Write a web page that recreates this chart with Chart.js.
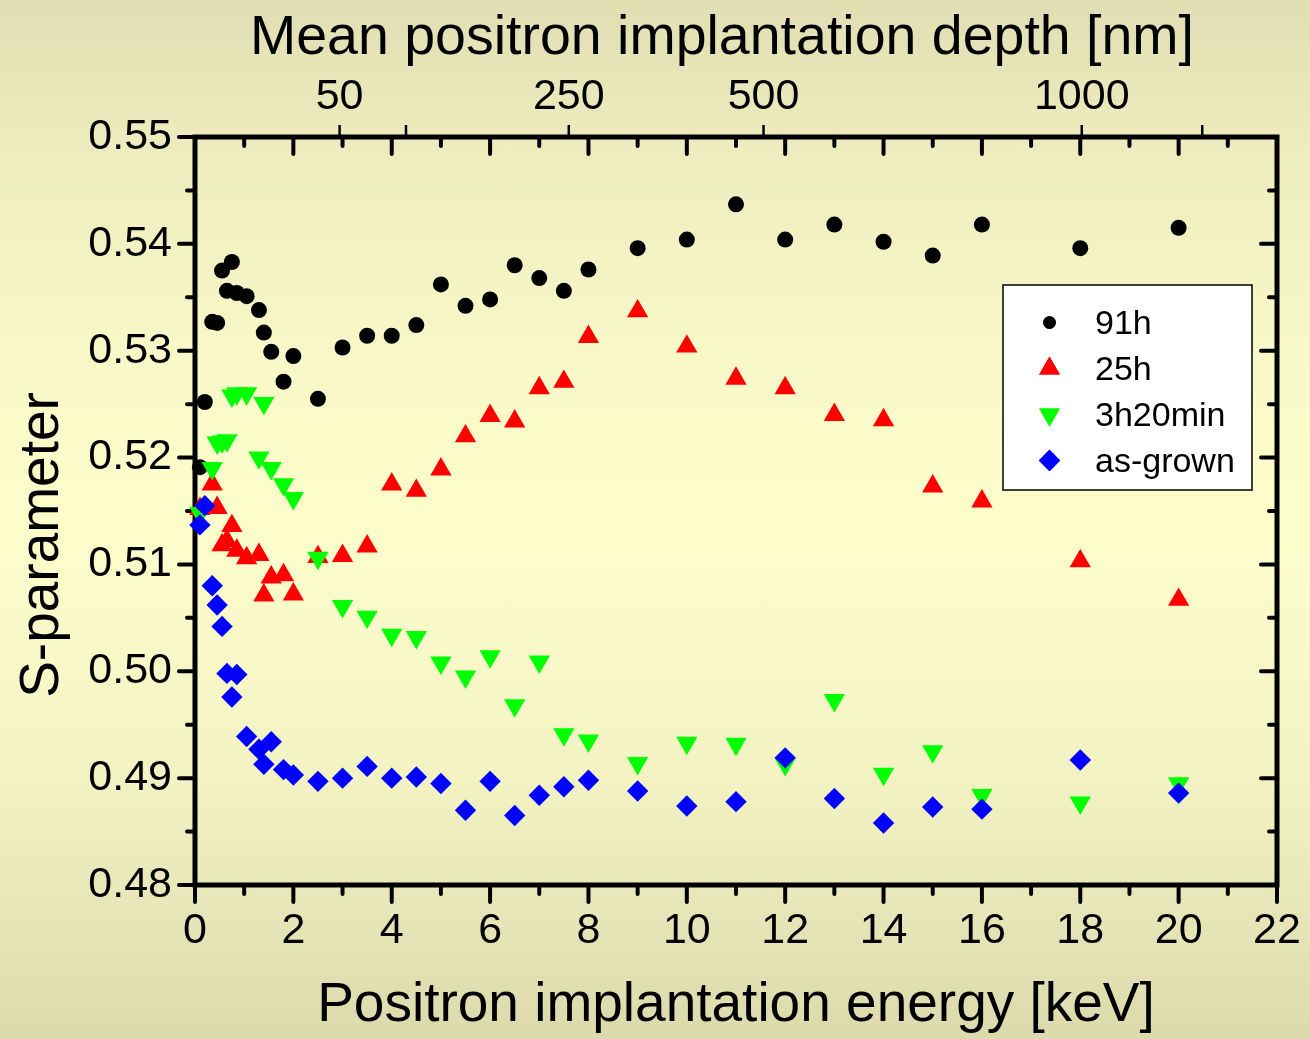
<!DOCTYPE html>
<html>
<head>
<meta charset="utf-8">
<title>S-parameter vs positron implantation energy</title>
<script src="https://cdn.jsdelivr.net/npm/chart.js@4/dist/chart.umd.min.js"></script>
<style>
  html, body { margin: 0; padding: 0; }
  body {
    width: 1310px; height: 1039px; overflow: hidden;
    background: linear-gradient(to bottom, #e0deb2 0%, #eeecbf 14%, #fbfbca 40%, #fdfdcc 52%, #f3f2c3 75%, #dcdaad 100%);
  }
  canvas { display: block; }
</style>
</head>
<body>
<canvas id="chart" width="1310" height="1039"></canvas>
<script>
// Positron implantation energies (keV) shared by all four samples
const energies = [0.1, 0.2, 0.35, 0.45, 0.55, 0.65, 0.75, 0.85, 1.05, 1.3, 1.4, 1.55, 1.8, 2.0,
                  2.5, 3, 3.5, 4, 4.5, 5, 5.5, 6, 6.5, 7, 7.5, 8, 9, 10, 11, 12, 13, 14, 15, 16, 18, 20];

// S-parameter per sample (null = not measured at that energy)
const s91h = [0.5191, 0.5252, 0.5327, 0.5326, 0.5375, 0.5356, 0.5383, 0.5354, 0.5351, 0.5338, 0.5317, 0.5299, 0.5271, 0.5295,
              0.5255, 0.5303, 0.5314, 0.5314, 0.5324, 0.5362, 0.5342, 0.5348, 0.5380, 0.5368, 0.5356, 0.5376, 0.5396, 0.5404,
              0.5437, 0.5404, 0.5418, 0.5402, 0.5389, 0.5418, 0.5396, 0.5415];
const s25h = [0.5152, null, 0.5175, 0.5153, 0.5118, 0.5122, 0.5136, 0.5113, 0.5106, 0.5109, 0.5071, 0.5088, 0.5090, 0.5072,
              0.5107, 0.5108, 0.5117, 0.5175, 0.5169, 0.5189, 0.5220, 0.5239, 0.5234, 0.5265, 0.5271, 0.5313, 0.5337, 0.5304,
              0.5274, 0.5265, 0.5240, 0.5235, 0.5173, 0.5159, 0.5103, 0.5067];
const s3h20 = [0.5148, null, 0.5190, 0.5214, 0.5215, 0.5216, 0.5258, 0.5260, 0.5260, 0.5200, 0.5251, 0.5190, 0.5175, 0.5162,
               0.5106, 0.5061, 0.5051, 0.5034, 0.5032, 0.5008, 0.4995, 0.5014, 0.4968, 0.5009, 0.4941, 0.4935, 0.4914, 0.4933,
               0.4932, 0.4913, 0.4973, 0.4904, 0.4925, 0.4884, 0.4877, 0.4895];
const sAsGrown = [0.5137, 0.5155, 0.5080, 0.5062, 0.5042, 0.4998, 0.4976, 0.4997, 0.4939, 0.4927, 0.4913, 0.4934, 0.4908, 0.4903,
                  0.4897, 0.4900, 0.4911, 0.4900, 0.4901, 0.4895, 0.4870, 0.4897, 0.4865, 0.4884, 0.4892, 0.4898, 0.4888, 0.4874,
                  0.4878, 0.4919, 0.4881, 0.4858, 0.4873, 0.4871, 0.4917, 0.4886];

const seriesNames = ['91h', '25h', '3h20min', 'as-grown'];

// Top axis: mean implantation depth (nm) and the beam energy (keV) at which it is reached
const depthTickLabels = ['50', '', '250', '500', '1000', ''];
const depthTickEnergies = [2.94, 4.29, 7.60, 11.56, 18.03, 20.48];

// Axis ranges and tick steps
const X_MIN = 0, X_MAX = 22, X_STEP = 2;
const Y_MIN = 0.48, Y_MAX = 0.55, Y_STEP = 0.01;

const FONT = "'Liberation Sans', Arial, Helvetica, sans-serif";

function points(values) {
  const out = [];
  energies.forEach((e, i) => { if (values[i] !== null) out.push({ x: e, y: values[i] }); });
  return out;
}

// Marker styles of the four samples
const styles = [
  { pointStyle: 'circle',   rotation: 0,   radius: 8,    legendRadius: 6.3,  color: '#000000' },
  { pointStyle: 'triangle', rotation: 0,   radius: 12.3, legendRadius: 12,   color: '#ff0000' },
  { pointStyle: 'triangle', rotation: 180, radius: 12.3, legendRadius: 12,   color: '#00ff00' },
  { pointStyle: 'rectRot',  rotation: 0,   radius: 10.7, legendRadius: 10.7, color: '#0000ff' }
];
const seriesValues = [s91h, s25h, s3h20, sAsGrown];

const datasets = seriesValues.map((vals, i) => ({
  label: seriesNames[i],
  data: points(vals),
  pointStyle: styles[i].pointStyle,
  rotation: styles[i].rotation,
  pointRadius: styles[i].radius,
  pointHoverRadius: styles[i].radius,
  backgroundColor: styles[i].color,
  borderColor: styles[i].color,
  borderWidth: 0,
  showLine: false,
  clip: false,
  order: 4 - i            // later samples are painted on top
}));

function line(ctx, x1, y1, x2, y2) {
  ctx.beginPath(); ctx.moveTo(x1, y1); ctx.lineTo(x2, y2); ctx.stroke();
}

// Frame, outward/inward tick marks (major and minor), depth ticks and the two side titles
const frameTicks = {
  id: 'frameTicks',
  beforeDatasetsDraw(chart) {
    const { ctx, chartArea: a, scales } = chart;
    const xs = scales.x, ys = scales.y, xd = scales.xDepth;
    ctx.save();
    ctx.strokeStyle = '#000';
    ctx.lineCap = 'round';
    ctx.lineWidth = 4;
    const nX = Math.round((X_MAX - X_MIN) / (X_STEP / 2));
    for (let k = 0; k <= nX; k++) {
      const px = xs.getPixelForValue(X_MIN + k * X_STEP / 2);
      const len = k % 2 === 0 ? 17 : 9;
      line(ctx, px, a.bottom, px, a.bottom + len);
      line(ctx, px, a.top, px, a.top + len);
    }
    const nY = Math.round((Y_MAX - Y_MIN) / (Y_STEP / 2));
    for (let k = 0; k <= nY; k++) {
      const py = ys.getPixelForValue(Y_MIN + k * Y_STEP / 2);
      const len = k % 2 === 0 ? 16 : 8;
      line(ctx, a.left, py, a.left - len, py);
      line(ctx, a.right, py, a.right - len, py);
    }
    ctx.lineCap = 'butt';
    ctx.lineWidth = 2.5;
    xd.ticks.forEach(t => {
      const px = xd.getPixelForValue(t.value);
      line(ctx, px, a.top, px, a.top - 12);
    });
    ctx.lineWidth = 5;
    ctx.lineJoin = 'miter';
    ctx.strokeRect(a.left, a.top, a.right - a.left, a.bottom - a.top);

    ctx.fillStyle = '#000';
    ctx.textBaseline = 'alphabetic';
    ctx.textAlign = 'center';
    // top axis title
    ctx.font = '55.5px ' + FONT;
    ctx.fillText('Mean positron implantation depth [nm]', (a.left + a.right) / 2 - 14, 54);
    // vertical axis title
    ctx.font = '55px ' + FONT;
    ctx.translate(58, (a.top + a.bottom) / 2 + 34);
    ctx.rotate(-Math.PI / 2);
    ctx.fillText('S-parameter', 0, 0);
    ctx.restore();
  }
};

// Boxed legend inside the plot area
const boxLegend = {
  id: 'boxLegend',
  afterDatasetsDraw(chart) {
    const { ctx, chartArea: a } = chart;
    const left = a.right - 274, top = a.top + 148, w = 249, h = 205;
    ctx.save();
    ctx.fillStyle = '#ffffff';
    ctx.fillRect(left, top, w, h);
    ctx.strokeStyle = '#000';
    ctx.lineWidth = 1.5;
    ctx.strokeRect(left, top, w, h);
    ctx.font = '34px ' + FONT;
    ctx.textAlign = 'left';
    ctx.textBaseline = 'alphabetic';
    chart.data.datasets.forEach((ds, i) => {
      const base = top + 48.5 + i * 46;
      const st = styles[i];
      ctx.fillStyle = st.color;
      Chart.helpers.drawPoint(ctx, {
        pointStyle: st.pointStyle, rotation: st.rotation, radius: st.legendRadius, borderWidth: 0
      }, left + 46.5, base - 11);
      ctx.fill();
      ctx.fillStyle = '#000';
      ctx.fillText(ds.label, left + 92, base);
    });
    ctx.restore();
  }
};

const tickFont = { family: FONT, size: 43 };
const titleFont = { family: FONT, size: 55 };

function noEdgePadding(scale) { scale.paddingLeft = 0; scale.paddingRight = 0; }

new Chart(document.getElementById('chart'), {
  type: 'scatter',
  data: { datasets },
  options: {
    responsive: false,
    animation: false,
    devicePixelRatio: 1,
    layout: { padding: { left: 0, right: 33, top: 0, bottom: 0 } },
    plugins: { legend: { display: false }, tooltip: { enabled: false } },
    scales: {
      x: {
        type: 'linear', position: 'bottom', min: X_MIN, max: X_MAX,
        grid: { display: false, drawTicks: false },
        border: { display: false },
        ticks: { stepSize: X_STEP, padding: 20, color: '#000', font: tickFont, maxRotation: 0, autoSkip: false },
        title: { display: true, text: 'Positron implantation energy [keV]', color: '#000', font: titleFont, padding: { top: 0, bottom: 0 } },
        afterFit(scale) { scale.height = 154; noEdgePadding(scale); }
      },
      xDepth: {
        type: 'linear', position: 'top', min: X_MIN, max: X_MAX,
        grid: { display: false, drawTicks: false },
        border: { display: false },
        afterBuildTicks(scale) { scale.ticks = depthTickEnergies.map(v => ({ value: v })); },
        ticks: {
          padding: 14, color: '#000', font: tickFont, maxRotation: 0, autoSkip: false,
          callback: (v, i) => depthTickLabels[i]
        },
        afterFit(scale) { scale.height = 137; noEdgePadding(scale); }
      },
      y: {
        type: 'linear', position: 'left', min: Y_MIN, max: Y_MAX,
        grid: { display: false, drawTicks: false },
        border: { display: false },
        ticks: { stepSize: Y_STEP, padding: 23, color: '#000', font: tickFont, callback: v => v.toFixed(2) },
        afterFit(scale) { scale.width = 195; }
      }
    }
  },
  plugins: [frameTicks, boxLegend]
});
</script>
</body>
</html>
